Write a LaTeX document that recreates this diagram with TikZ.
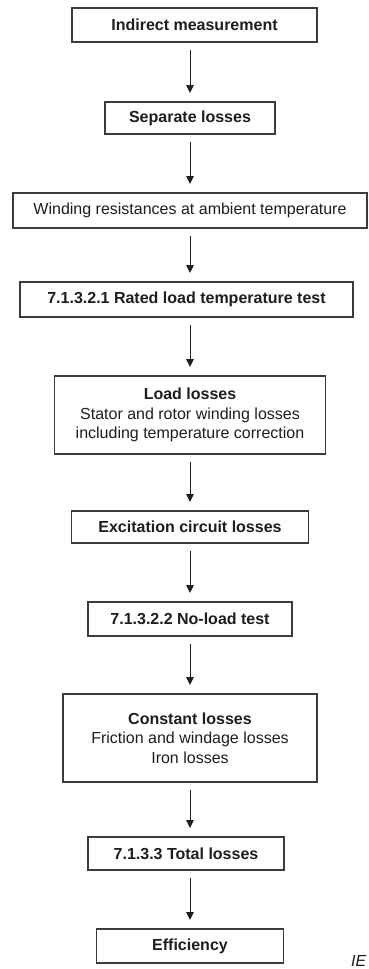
\documentclass[tikz,border=0pt]{standalone}
\usepackage{fontspec}
\setmainfont{Liberation Sans}
\usepackage{tikz}
\usetikzlibrary{arrows.meta,positioning}
\definecolor{colLine}{RGB}{60,60,60}
\definecolor{colText}{RGB}{30,30,30}
\tikzset{
  block/.style  = {rectangle, draw=colLine, line width=1.1pt, fill=white,
                   text=colText, align=center, inner sep=2pt, outer sep=0pt,
                   font=\fontsize{16}{19.5}\selectfont},
  tblock/.style = {block, font=\fontsize{16}{19.5}\selectfont\bfseries},
  arr/.style    = {-{Triangle[length=8pt,width=7.5pt]}, line width=0.9pt,
                   draw=colText, shorten <=8pt, shorten >=9pt},
}
\begin{document}
\begin{tikzpicture}[x=1pt, y=-1pt]
\useasboundingbox (0,0) rectangle (368,969);

%% Flow of the indirect method
\node[tblock, minimum width=245pt, minimum height=34pt] (indirect) at (194.5,25)
      {Indirect measurement};
\node[tblock, below=60pt of indirect, xshift=-4.5pt,
      minimum width=170pt, minimum height=32pt] (separate) {Separate losses};
\node[block, below=59pt of separate,
      minimum width=354pt, minimum height=35pt] (winding)
      {Winding resistances at ambient temperature};
\node[tblock, below=54pt of winding, xshift=-3.5pt,
      minimum width=333pt, minimum height=35pt] (ratedtest)
      {7.1.3.2.1 Rated load temperature test};
\node[block, below=59pt of ratedtest, xshift=3.5pt,
      minimum width=271pt, minimum height=78pt] (loadloss)
      {\textbf{Load losses}\\Stator and rotor winding losses\\including temperature correction};
\node[tblock, below=57pt of loadloss,
      minimum width=237pt, minimum height=32pt] (excit)
      {Excitation circuit losses};
\node[tblock, below=59pt of excit,
      minimum width=204pt, minimum height=34pt] (noload)
      {7.1.3.2.2 No-load test};
\node[block, below=58pt of noload,
      minimum width=254pt, minimum height=88pt] (constloss)
      {\textbf{Constant losses}\\Friction and windage losses\\Iron losses};
\node[tblock, below=55pt of constloss, xshift=-4pt,
      minimum width=196pt, minimum height=33pt] (total)
      {7.1.3.3 Total losses};
\node[tblock, below=59pt of total, xshift=4pt,
      minimum width=187pt, minimum height=34pt] (effic) {Efficiency};

\node[anchor=base west, inner sep=0pt, text=colText,
      font=\fontsize{16}{19.5}\selectfont\itshape] (iec) at (351,966) {IE};

%% Arrows
\draw[arr] (indirect.south -| separate.north) -- (separate.north);
\draw[arr] (separate) -- (winding);
\draw[arr] (winding.south) -- (winding.south |- ratedtest.north);
\draw[arr] (ratedtest.south -| loadloss.north) -- (loadloss.north);
\draw[arr] (loadloss) -- (excit);
\draw[arr] (excit) -- (noload);
\draw[arr] (noload) -- (constloss);
\draw[arr] (constloss.south) -- (constloss.south |- total.north);
\draw[arr] (total.south -| effic.north) -- (effic.north);

\end{tikzpicture}
\end{document}
